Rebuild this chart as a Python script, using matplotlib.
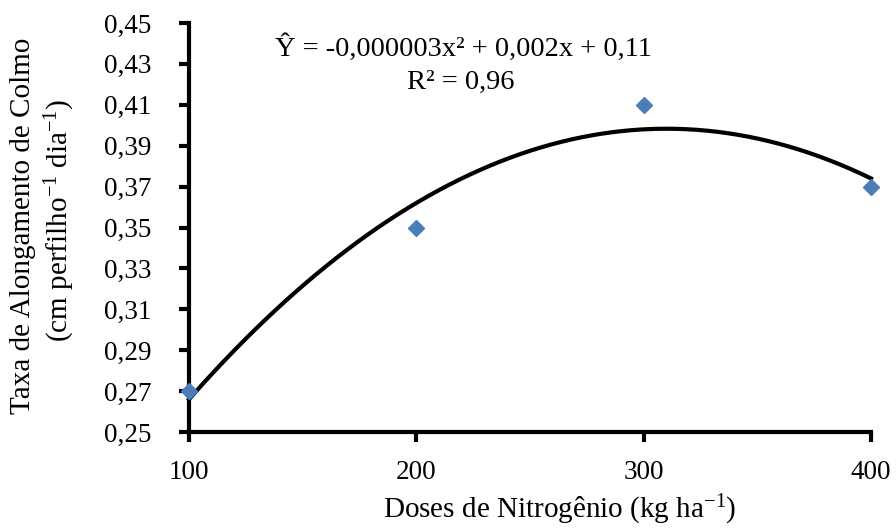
import numpy as np
import matplotlib
matplotlib.use('Agg')
from matplotlib import pyplot as plt
from matplotlib.ticker import FixedLocator, FuncFormatter

plt.rcParams['font.family'] = ['Liberation Serif', 'DejaVu Serif']
plt.rcParams['mathtext.fontset'] = 'custom'
plt.rcParams['mathtext.rm'] = 'Liberation Serif'
plt.rcParams['mathtext.it'] = 'Liberation Serif:italic'

# doses de N (kg/ha) e taxa de alongamento de colmo
doses = [100, 200, 300, 400]
taxa = [0.27, 0.35, 0.41, 0.37]
y_ticks = [0.25, 0.27, 0.29, 0.31, 0.33, 0.35, 0.37, 0.39, 0.41, 0.43, 0.45]
x_ticks = [100, 200, 300, 400]
equacao = 'Ŷ = -0,000003x² + 0,002x + 0,11'
r2_txt = 'R² = 0,96'

# ajuste quadratico
coef = np.polyfit(doses, taxa, 2)
xs = np.linspace(min(doses), max(doses), 200)
ys = np.polyval(coef, xs)

W, H = 896, 529
fig = plt.figure(figsize=(W/100, H/100), dpi=100)
ax = fig.add_axes([189/W, 1-432/H, (871-189)/W, (432-23)/H])

ax.plot(xs, ys, color='black', lw=3, clip_on=False, zorder=3)
ax.plot(doses, taxa, ls='none', marker='D', ms=8.5, color='#4A7EBB',
        mec='#4A7EBB', clip_on=False, zorder=4)

ax.set_xlim(100, 400)
ax.set_ylim(0.25, 0.45)
ax.xaxis.set_major_locator(FixedLocator(x_ticks))
ax.yaxis.set_major_locator(FixedLocator(y_ticks))
ax.yaxis.set_major_formatter(FuncFormatter(lambda v, p: ('%.2f' % v).replace('.', ',')))
ax.tick_params(axis='both', direction='out', length=7, width=3, labelsize=19.5)
ax.tick_params(axis='y', pad=20)
ax.tick_params(axis='x', pad=13)

for s in ['top', 'right']:
    ax.spines[s].set_visible(False)
for s in ['left', 'bottom']:
    ax.spines[s].set_linewidth(3)

# equacao e R2 (posicao em pixels da figura)
fig.text(463/W, 1-48/H, equacao, fontsize=20.5, ha='center', va='center')
fig.text(461/W, 1-82/H, r2_txt, fontsize=20.5, ha='center', va='center')

fig.text(560/W, 1-510/H, r'Doses de Nitrogênio (kg ha$^{\mathregular{-1}}$)',
         fontsize=21, ha='center', va='center')
fig.text(23/W, 1-226/H, 'Taxa de Alongamento de Colmo',
         fontsize=21, ha='center', va='center', rotation=90)
fig.text(60/W, 1-220/H, r'(cm perfilho$^{\mathregular{-1}}$ dia$^{\mathregular{-1}}$)',
         fontsize=21, ha='center', va='center', rotation=90)

fig.savefig('out.png', dpi=100)
plt.close()
